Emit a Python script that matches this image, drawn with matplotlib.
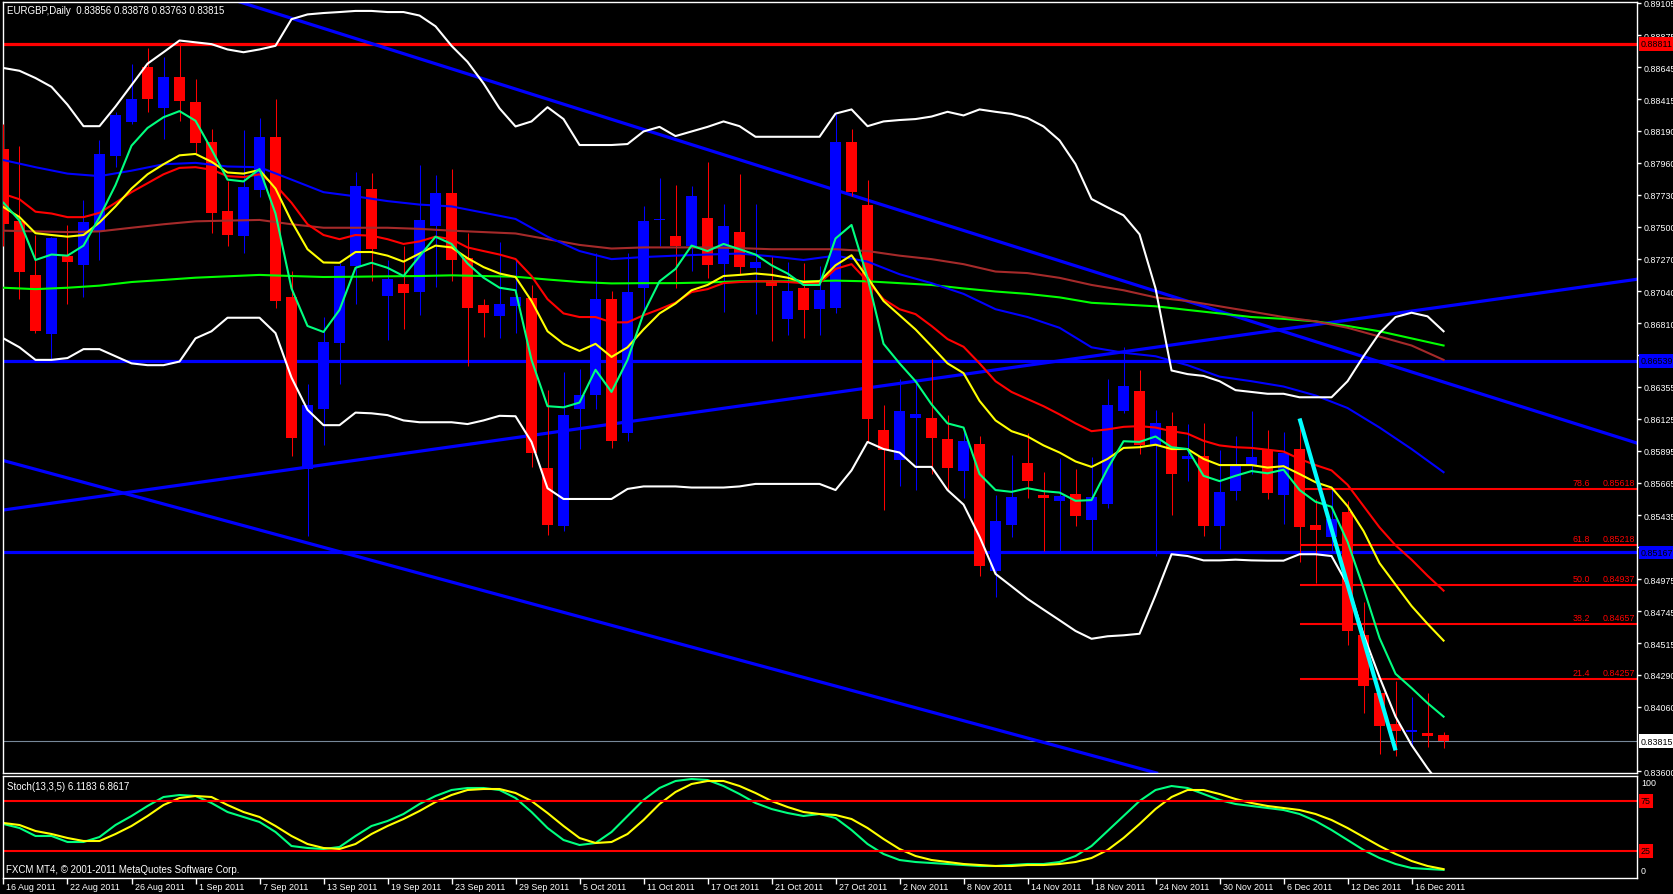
import numpy as np
import pandas as pd
import matplotlib
matplotlib.use("Agg")
import matplotlib.pyplot as plt
from matplotlib import transforms, font_manager

plt.rcParams['font.family'] = ['Liberation Sans', 'DejaVu Sans']

title = "EURGBP,Daily  0.83856 0.83878 0.83763 0.83815"
stoch_title = "Stoch(13,3,5) 6.1183 6.8617"
copyright_txt = "FXCM MT4, \u00a9 2001-2011 MetaQuotes Software Corp."

# daily bars 16 Aug 2011 .. 20 Dec 2011
dates = pd.bdate_range("2011-08-16", "2011-12-20")

opens = [0.88061, 0.87545, 0.87153, 0.86734, 0.87289, 0.87225, 0.87473, 0.88005, 0.88255, 0.88644,
         0.88350, 0.88573, 0.88394, 0.88107, 0.87611, 0.87437, 0.87762, 0.88143, 0.86995, 0.85767,
         0.86197, 0.86670, 0.87222, 0.87775, 0.87008, 0.87090, 0.87033, 0.87506, 0.87742, 0.87276,
         0.86939, 0.86859, 0.86936, 0.86987, 0.85773, 0.85353, 0.86197, 0.86292, 0.86982, 0.86023,
         0.87064, 0.87550, 0.87435, 0.87361, 0.87563, 0.87233, 0.87463, 0.87207, 0.87115, 0.86841,
         0.87059, 0.86910, 0.86918, 0.88112, 0.87657, 0.86044, 0.85831, 0.86133, 0.86131, 0.85980,
         0.85750, 0.85946, 0.85031, 0.85366, 0.85806, 0.85581, 0.85532, 0.85586, 0.85397, 0.85517,
         0.86182, 0.86322, 0.85934, 0.86072, 0.85839, 0.85857, 0.85353, 0.85609, 0.85793, 0.85900,
         0.85576, 0.85908, 0.85363, 0.85280, 0.85455, 0.84573, 0.84162, 0.83939, 0.83883, 0.83870,
         0.83856]
highs = [0.88235, 0.88082, 0.87442, 0.87430, 0.87514, 0.87690, 0.88120, 0.88322, 0.88665, 0.88785,
         0.88721, 0.88828, 0.88557, 0.88204, 0.87826, 0.88197, 0.88279, 0.88419, 0.87187, 0.86373,
         0.86854, 0.87238, 0.87890, 0.87885, 0.87263, 0.87366, 0.87941, 0.87872, 0.87915, 0.87455,
         0.86982, 0.87391, 0.87263, 0.87084, 0.86330, 0.86458, 0.86483, 0.87315, 0.87038, 0.87315,
         0.87647, 0.87851, 0.87800, 0.87795, 0.87967, 0.87665, 0.87877, 0.87665, 0.87289, 0.87251,
         0.87243, 0.87217, 0.88307, 0.88202, 0.87834, 0.86223, 0.86412, 0.86407, 0.86552, 0.86151,
         0.86049, 0.86000, 0.85576, 0.85865, 0.86023, 0.85742, 0.85844, 0.85762, 0.85852, 0.86412,
         0.86642, 0.86471, 0.86189, 0.86171, 0.86087, 0.86092, 0.85900, 0.85998, 0.86184, 0.86041,
         0.86031, 0.86113, 0.85550, 0.85622, 0.85537, 0.84809, 0.84180, 0.84246, 0.84131, 0.84157,
         0.83878]
lows = [0.87366, 0.86982, 0.86739, 0.86547, 0.86949, 0.87000, 0.87263, 0.87928, 0.88235, 0.88325,
        0.88133, 0.88261, 0.88030, 0.87455, 0.87366, 0.87315, 0.87711, 0.86918, 0.85857, 0.85282,
        0.85934, 0.86373, 0.86949, 0.87110, 0.86688, 0.86765, 0.86867, 0.87072, 0.87110, 0.86504,
        0.86714, 0.86701, 0.86739, 0.85780, 0.85289, 0.85320, 0.85908, 0.86197, 0.85913, 0.85967,
        0.86880, 0.87366, 0.87064, 0.87187, 0.87136, 0.86893, 0.87161, 0.86875, 0.86680, 0.86726,
        0.86706, 0.86726, 0.86880, 0.87720, 0.85959, 0.85473, 0.85640, 0.85614, 0.85729, 0.85614,
        0.85555, 0.84995, 0.84847, 0.85274, 0.85555, 0.85179, 0.85179, 0.85358, 0.85179, 0.85486,
        0.86164, 0.85870, 0.85141, 0.85435, 0.85678, 0.85282, 0.85192, 0.85542, 0.85729, 0.85550,
        0.85371, 0.85095, 0.84949, 0.85171, 0.84507, 0.84016, 0.83722, 0.83709, 0.83780, 0.83773,
        0.83763]
closes = [0.87524, 0.87179, 0.86752, 0.87422, 0.87251, 0.87534, 0.88020, 0.88299, 0.88414, 0.88414,
          0.88573, 0.88406, 0.88100, 0.87601, 0.87442, 0.87785, 0.88143, 0.86969, 0.85985, 0.86220,
          0.86675, 0.87217, 0.87790, 0.87340, 0.87128, 0.87026, 0.87552, 0.87742, 0.87263, 0.86918,
          0.86880, 0.86944, 0.87000, 0.85877, 0.85366, 0.86151, 0.86292, 0.86982, 0.85964, 0.87033,
          0.87545, 0.87560, 0.87366, 0.87719, 0.87225, 0.87504, 0.87212, 0.87245, 0.87077, 0.87038,
          0.86905, 0.87046, 0.88112, 0.87749, 0.86126, 0.85903, 0.86177, 0.86159, 0.85985, 0.85775,
          0.85964, 0.85072, 0.85392, 0.85563, 0.85678, 0.85555, 0.85568, 0.85427, 0.85563, 0.86220,
          0.86363, 0.85939, 0.86092, 0.85729, 0.85857, 0.85353, 0.85601, 0.85793, 0.85852, 0.85596,
          0.85883, 0.85346, 0.85328, 0.85407, 0.84604, 0.84208, 0.83926, 0.83888, 0.83893, 0.83850,
          0.83815]

# moving averages (one value per bar)
ma_fast = [0.87673, 0.87545, 0.87263, 0.87302, 0.87294, 0.87366, 0.87570, 0.87800, 0.88082, 0.88209,
           0.88286, 0.88330, 0.88261, 0.88056, 0.87839, 0.87826, 0.87915, 0.87596, 0.87059, 0.86790,
           0.86747, 0.86905, 0.87207, 0.87243, 0.87207, 0.87148, 0.87289, 0.87430, 0.87378, 0.87238,
           0.87136, 0.87064, 0.87046, 0.86547, 0.86215, 0.86207, 0.86241, 0.86476, 0.86317, 0.86547,
           0.86880, 0.87110, 0.87199, 0.87366, 0.87327, 0.87378, 0.87340, 0.87302, 0.87225, 0.87166,
           0.87084, 0.87084, 0.87417, 0.87514, 0.87136, 0.86662, 0.86522, 0.86394, 0.86228, 0.86092,
           0.86062, 0.85729, 0.85614, 0.85601, 0.85627, 0.85606, 0.85596, 0.85537, 0.85542, 0.85767,
           0.85964, 0.85959, 0.85998, 0.85921, 0.85908, 0.85716, 0.85678, 0.85716, 0.85750, 0.85734,
           0.85760, 0.85614, 0.85530, 0.85494, 0.85243, 0.84911, 0.84553, 0.84297, 0.84195, 0.84087,
           0.83990]
ma_yellow = [0.87642, 0.87570, 0.87455, 0.87442, 0.87430, 0.87442, 0.87532, 0.87647, 0.87775, 0.87877,
             0.87949, 0.88013, 0.88023, 0.87967, 0.87890, 0.87882, 0.87908, 0.87775, 0.87540, 0.87340,
             0.87245, 0.87243, 0.87320, 0.87320, 0.87294, 0.87251, 0.87309, 0.87366, 0.87353, 0.87276,
             0.87212, 0.87166, 0.87141, 0.86969, 0.86752, 0.86662, 0.86611, 0.86662, 0.86568, 0.86637,
             0.86765, 0.86880, 0.86951, 0.87046, 0.87084, 0.87148, 0.87156, 0.87166, 0.87156, 0.87136,
             0.87105, 0.87110, 0.87225, 0.87297, 0.87136, 0.86969, 0.86867, 0.86765, 0.86645, 0.86522,
             0.86452, 0.86253, 0.86113, 0.86036, 0.85998, 0.85934, 0.85883, 0.85819, 0.85780, 0.85837,
             0.85916, 0.85921, 0.85939, 0.85908, 0.85908, 0.85837, 0.85793, 0.85793, 0.85793, 0.85775,
             0.85785, 0.85729, 0.85670, 0.85632, 0.85499, 0.85320, 0.85090, 0.84936, 0.84783, 0.84655,
             0.84535]
ma_red = [0.87736, 0.87698, 0.87609, 0.87596, 0.87570, 0.87570, 0.87601, 0.87673, 0.87749, 0.87813,
          0.87877, 0.87923, 0.87928, 0.87910, 0.87864, 0.87857, 0.87877, 0.87800, 0.87673, 0.87519,
          0.87442, 0.87412, 0.87442, 0.87437, 0.87412, 0.87378, 0.87396, 0.87430, 0.87412, 0.87353,
          0.87327, 0.87302, 0.87270, 0.87148, 0.86982, 0.86880, 0.86854, 0.86854, 0.86816, 0.86816,
          0.86867, 0.86910, 0.86957, 0.87033, 0.87054, 0.87097, 0.87105, 0.87110, 0.87110, 0.87105,
          0.87097, 0.87097, 0.87199, 0.87233, 0.87110, 0.86982, 0.86910, 0.86875, 0.86790, 0.86696,
          0.86641, 0.86522, 0.86394, 0.86317, 0.86266, 0.86215, 0.86156, 0.86092, 0.86036, 0.86049,
          0.86067, 0.86072, 0.86062, 0.86036, 0.86018, 0.85967, 0.85934, 0.85921, 0.85916, 0.85903,
          0.85890, 0.85837, 0.85793, 0.85755, 0.85652, 0.85499, 0.85346, 0.85218, 0.85115, 0.85000,
          0.84893]
# slow averages, read every second bar
ma_brown = [0.87473, 0.87468, 0.87463, 0.87468, 0.87494, 0.87519, 0.87540, 0.87545, 0.87550, 0.87519,
            0.87494, 0.87494, 0.87494, 0.87486, 0.87473, 0.87463, 0.87453, 0.87412, 0.87371, 0.87345,
            0.87353, 0.87353, 0.87353, 0.87348, 0.87340, 0.87340, 0.87340, 0.87327, 0.87294, 0.87269,
            0.87233, 0.87180, 0.87169, 0.87135, 0.87084, 0.87046, 0.86995, 0.86969, 0.86931, 0.86893,
            0.86854, 0.86823, 0.86777, 0.86714, 0.86650, 0.86547]
ma_blue = [0.87979, 0.87928, 0.87882, 0.87864, 0.87903, 0.87949, 0.87959, 0.87933, 0.87928, 0.87839,
           0.87749, 0.87719, 0.87685, 0.87660, 0.87647, 0.87602, 0.87557, 0.87430, 0.87327, 0.87269,
           0.87284, 0.87294, 0.87302, 0.87309, 0.87289, 0.87263, 0.87294, 0.87251, 0.87161, 0.87097,
           0.87020, 0.86910, 0.86854, 0.86777, 0.86637, 0.86598, 0.86573, 0.86509, 0.86427, 0.86394,
           0.86356, 0.86292, 0.86202, 0.86062, 0.85908, 0.85742]
ma_lime = [0.87064, 0.87054, 0.87064, 0.87079, 0.87105, 0.87120, 0.87136, 0.87146, 0.87156, 0.87148,
           0.87141, 0.87143, 0.87146, 0.87148, 0.87153, 0.87148, 0.87143, 0.87123, 0.87105, 0.87095,
           0.87097, 0.87097, 0.87102, 0.87110, 0.87110, 0.87110, 0.87115, 0.87110, 0.87097, 0.87084,
           0.87059, 0.87037, 0.87020, 0.86995, 0.86956, 0.86944, 0.86931, 0.86905, 0.86880, 0.86854,
           0.86841, 0.86823, 0.86790, 0.86752, 0.86701, 0.86650]

bb_upper = [0.88639, 0.88619, 0.88567, 0.88504, 0.88376, 0.88222, 0.88222, 0.88363, 0.88516, 0.88670,
            0.88752, 0.88836, 0.88823, 0.88810, 0.88772, 0.88752, 0.88772, 0.88798, 0.88989, 0.89023,
            0.89033, 0.89040, 0.89048, 0.89048, 0.89040, 0.89040, 0.89015, 0.88938, 0.88798, 0.88683,
            0.88529, 0.88350, 0.88220, 0.88256, 0.88358, 0.88273, 0.88087, 0.88087, 0.88087, 0.88094,
            0.88184, 0.88217, 0.88151, 0.88184, 0.88217, 0.88256, 0.88222, 0.88146, 0.88146, 0.88146,
            0.88146, 0.88146, 0.88312, 0.88342, 0.88222, 0.88256, 0.88266, 0.88273, 0.88291, 0.88325,
            0.88299, 0.88342, 0.88325, 0.88310, 0.88280, 0.88220, 0.88120, 0.87950, 0.87700, 0.87640,
            0.87583, 0.87447, 0.87059, 0.86471, 0.86445, 0.86432, 0.86394, 0.86330, 0.86317, 0.86304,
            0.86304, 0.86279, 0.86279, 0.86279, 0.86394, 0.86573, 0.86739, 0.86854, 0.86885, 0.86859,
            0.86752]
bb_lower = [0.86701, 0.86637, 0.86547, 0.86547, 0.86560, 0.86624, 0.86624, 0.86573, 0.86522, 0.86509,
            0.86509, 0.86535, 0.86701, 0.86752, 0.86849, 0.86849, 0.86849, 0.86739, 0.86420, 0.86189,
            0.86079, 0.86079, 0.86169, 0.86164, 0.86151, 0.86113, 0.86100, 0.86100, 0.86100, 0.86087,
            0.86113, 0.86146, 0.86143, 0.85959, 0.85627, 0.85550, 0.85550, 0.85550, 0.85550, 0.85622,
            0.85640, 0.85640, 0.85640, 0.85632, 0.85632, 0.85632, 0.85640, 0.85658, 0.85658, 0.85658,
            0.85658, 0.85658, 0.85614, 0.85755, 0.85959, 0.85908, 0.85883, 0.85780, 0.85780, 0.85614,
            0.85510, 0.85280, 0.85013, 0.84924, 0.84834, 0.84757, 0.84681, 0.84604, 0.84548, 0.84566,
            0.84573, 0.84584, 0.84860, 0.85154, 0.85141, 0.85110, 0.85110, 0.85115, 0.85110, 0.85108,
            0.85108, 0.85154, 0.85154, 0.85141, 0.84936, 0.84578, 0.84272, 0.83990, 0.83786, 0.83620,
            0.83470]

stoch_main = [52, 48, 40, 40, 34, 34, 39, 51, 60, 70, 79, 81, 80, 73, 64, 59, 54, 44, 30, 28,
              27, 29, 40, 50, 55, 62, 72, 80, 86, 88, 88, 86, 78, 64, 48, 36, 31, 33, 44, 60,
              76, 88, 95, 97, 96, 90, 82, 73, 67, 63, 60, 62, 58, 46, 32, 22, 16, 14, 13, 12,
              11, 10, 10, 11, 12, 12, 14, 20, 30, 45, 60, 75, 86, 90, 88, 82, 76, 72, 70, 68,
              66, 62, 55, 46, 36, 26, 18, 12, 8, 7, 6.1183]
stoch_signal = [53, 51, 45, 42, 38, 35, 35, 42, 50, 60, 71, 78, 80, 79, 71, 64, 59, 50, 40, 32,
                28, 27, 32, 42, 50, 57, 65, 74, 81, 86, 87, 87, 83, 75, 63, 50, 38, 33, 34, 42,
                56, 72, 84, 92, 95, 95, 90, 83, 75, 69, 64, 62, 61, 57, 48, 37, 27, 20, 16, 14,
                12, 11, 10, 10, 11, 11, 12, 14, 18, 26, 38, 52, 67, 79, 86, 86, 82, 77, 73, 70,
                68, 66, 62, 56, 48, 39, 30, 22, 15, 10, 6.8617]

# objects drawn on the chart
red_levels = [0.88811]
blue_levels = [0.86539, 0.85167]
last_price = 0.83815
trend_lines = [((15.0, 0.89104), (92.3, 0.86305)),
               ((0.0, 0.85471), (102.1, 0.87125)),
               ((0.0, 0.85825), (72.0, 0.83588))]
swing_line = ((81, 0.86127), (87, 0.83748))
fib_start = 81
fib_pct = ["78.6", "61.8", "50.0", "38.2", "21.4"]
fib_levels = [0.85618, 0.85218, 0.84937, 0.84657, 0.84257]
price_ticks = [0.89105, 0.88875, 0.88645, 0.88415, 0.88190, 0.87960, 0.87730, 0.87500, 0.87270,
               0.87040, 0.86810, 0.86580, 0.86355, 0.86125, 0.85895, 0.85665, 0.85435, 0.85205,
               0.84975, 0.84745, 0.84515, 0.84290, 0.84060, 0.83600]
stoch_levels = [75, 25]

# axis font: narrow face when present (closest to the terminal's Tahoma)
installed = {f.name for f in font_manager.fontManager.ttflist}
if 'Liberation Sans Narrow' in installed:
    afam, afs = ['Liberation Sans Narrow'], 7.6
else:
    afam, afs = ['Liberation Sans', 'DejaVu Sans'], 6.4
fs = 7

W, H = 1674, 895
fig = plt.figure(figsize=(W / 100, H / 100), dpi=100, facecolor='black')
ax = fig.add_axes([3 / W, 1 - 774 / H, 1634 / W, 771 / H], facecolor='black')
ax2 = fig.add_axes([3 / W, 1 - 879 / H, 1634 / W, 102 / H], facecolor='black')

n = len(dates)
x = np.arange(n)
xmin, xmax = -0.031, 102.09

o = np.array(opens); c = np.array(closes)
hi = np.array(highs); lo = np.array(lows)
up = c >= o
cols = np.where(up, '#0000ff', '#ff0000')

ax.vlines(x, lo, hi, colors=cols, lw=0.75, zorder=3)
body = np.maximum(np.abs(c - o), 0.00008)
ax.bar(x, body, bottom=np.minimum(o, c), width=0.69, color=cols, lw=0, zorder=3)

x2 = np.arange(0, n, 2)
ax.plot(x2, ma_lime, color='#00ff00', lw=1.5, zorder=4)
ax.plot(x2, ma_brown, color='#a52a2a', lw=1.5, zorder=4)
ax.plot(x2, ma_blue, color='#0000ff', lw=1.5, zorder=4)
ax.plot(x, bb_upper, color='white', lw=1.5, zorder=4)
ax.plot(x, bb_lower, color='white', lw=1.5, zorder=4)
ax.plot(x, ma_red, color='#ff0000', lw=1.5, zorder=5)
ax.plot(x, ma_yellow, color='#ffff00', lw=1.5, zorder=5)
ax.plot(x, ma_fast, color='#00ff7f', lw=1.5, zorder=5)

for lv in red_levels:
    ax.axhline(lv, color='#ff0000', lw=2.3, zorder=2)
for lv in blue_levels:
    ax.axhline(lv, color='#0000ff', lw=2.3, zorder=2)
ax.axhline(last_price, color='#778899', lw=0.8, zorder=2)
for p1, p2 in trend_lines:
    ax.axline(p1, p2, color='#0000ff', lw=2.3, zorder=2)
(sx1, sy1), (sx2, sy2) = swing_line
ax.plot([sx1, sx2], [sy1, sy2], color='#00ffff', lw=3, zorder=6, solid_capstyle='butt')

ax.hlines(fib_levels, fib_start, xmax, color='#ff0000', lw=1.5, zorder=2)
tr = transforms.blended_transform_factory(ax.transAxes, ax.transData)
for pct, lv in zip(fib_pct, fib_levels):
    ax.text(1, lv, f"{lv:.5f}", transform=transforms.offset_copy(tr, fig=fig, x=-2, y=2, units='dots'),
            ha='right', va='bottom', color='#ff0000', fontsize=afs, family=afam)
    ax.text(1, lv, pct, transform=transforms.offset_copy(tr, fig=fig, x=-47, y=2, units='dots'),
            ha='right', va='bottom', color='#ff0000', fontsize=afs, family=afam)

ax.set_xlim(xmin, xmax)
ax.set_ylim(0.83586, 0.89112)
ax.yaxis.tick_right()
ax.set_yticks(price_ticks)
ax.set_yticklabels([f"{v:.5f}" for v in price_ticks], family=afam)
ax.tick_params(axis='y', direction='out', length=3, width=1, colors='white', labelsize=afs, pad=1.5)
ax.set_xticks([])
for s in ax.spines.values():
    s.set_color('white')
    s.set_linewidth(1)


def tag(axis, y, text, fc, tc):
    t = transforms.blended_transform_factory(axis.transAxes, axis.transData)
    axis.text(1, y, text, transform=transforms.offset_copy(t, fig=fig, x=4, y=0, units='dots'),
              ha='left', va='center', fontsize=afs, family=afam, color=tc, clip_on=False, zorder=10,
              bbox=dict(boxstyle='square,pad=0.25', fc=fc, ec='none'))


for lv in red_levels:
    tag(ax, lv, f"{lv:.5f}", '#ff0000', 'black')
for lv in blue_levels:
    tag(ax, lv, f"{lv:.5f}", '#0000ff', 'black')
tag(ax, last_price, f"{last_price:.5f}", 'white', 'black')

fig.text(7 / W, 1 - 11 / H, title, color='white', fontsize=fs, va='center', ha='left')

# stochastic panel
ax2.plot(x, stoch_main, color='#00ff7f', lw=1.5)
ax2.plot(x, stoch_signal, color='#ffff00', lw=1.5)
for lv in stoch_levels:
    ax2.axhline(lv, color='#ff0000', lw=1.5)
    tag(ax2, lv, str(lv), '#ff0000', 'black')
ax2.set_xlim(xmin, xmax)
ax2.set_ylim(-2, 100)
ax2.set_yticks([])
t2 = transforms.blended_transform_factory(ax2.transAxes, ax2.transData)
ax2.text(1, 94, "100", transform=transforms.offset_copy(t2, fig=fig, x=4, y=0, units='dots'),
         ha='left', va='center', color='white', fontsize=afs, family=afam, clip_on=False)
ax2.text(1, 5, "0", transform=transforms.offset_copy(t2, fig=fig, x=4, y=0, units='dots'),
         ha='left', va='center', color='white', fontsize=afs, family=afam, clip_on=False)
for s in ax2.spines.values():
    s.set_color('white')
    s.set_linewidth(1)
fig.text(7 / W, 1 - 787 / H, stoch_title, color='white', fontsize=fs, va='center', ha='left')
fig.text(6 / W, 1 - 870 / H, copyright_txt, color='white', fontsize=fs, va='center', ha='left')

label_idx = list(range(0, n - 2, 4))
ax2.set_xticks(label_idx)
ax2.set_xticklabels([])
ax2.tick_params(axis='x', direction='out', length=4, width=1, colors='white')
tx = transforms.blended_transform_factory(ax2.transData, ax2.transAxes)
for i in label_idx:
    d = dates[i]
    ax2.text(i, 0, f"{d.day} {d.strftime('%b %Y')}",
             transform=transforms.offset_copy(tx, fig=fig, x=3, y=-4, units='dots'),
             ha='left', va='top', color='white', fontsize=afs, family=afam, clip_on=False)

fig.savefig("out.png", dpi=100, facecolor='black')
